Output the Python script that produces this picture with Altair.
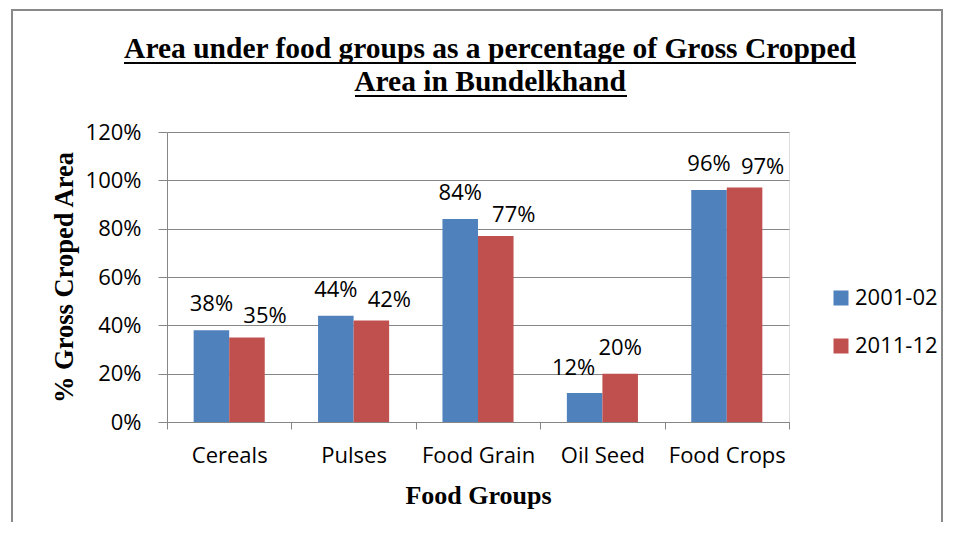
import altair as alt
import pandas as pd

# ---- data ----
categories = ["Cereals", "Pulses", "Food Grain", "Oil Seed", "Food Crops"]
periods = ["2001-02", "2011-12"]
share_2001 = [0.38, 0.44, 0.84, 0.12, 0.96]
share_2011 = [0.35, 0.42, 0.77, 0.20, 0.97]
y_ticks = [0, 0.2, 0.4, 0.6, 0.8, 1.0, 1.2]
title_lines = ["Area under food groups as a percentage of Gross Cropped",
               "Area in Bundelkhand"]

rows = []
for cat, a, b in zip(categories, share_2001, share_2011):
    rows.append({"Group": cat, "Period": periods[0], "Share": a})
    rows.append({"Group": cat, "Period": periods[1], "Share": b})
df = pd.DataFrame(rows)

BLUE = "#4F81BD"
RED = "#C0504D"
GRID = "#868686"
SANS = "Open Sans"
SERIF = "Liberation Serif"

W, H = 622, 290

base = alt.Chart(df).encode(
    x=alt.X(
        "Group:N",
        sort=categories,
        scale=alt.Scale(paddingInner=0, paddingOuter=0),
        axis=alt.Axis(
            title="Food Groups",
            titleFont=SERIF, titleFontSize=26, titleFontWeight="bold", titleColor="black",
            titleBaseline="alphabetic", titleY=81, titleX=W / 2,
            labelFont=SANS, labelFontSize=22, labelColor="black", labelAngle=0,
            labelPadding=16, tickBand="extent", tickSize=7, tickColor=GRID,
            domainColor=GRID, grid=False,
        ),
    ),
    xOffset=alt.XOffset("Period:N", sort=periods,
                        scale=alt.Scale(paddingInner=0, paddingOuter=0.75)),
    y=alt.Y(
        "Share:Q",
        scale=alt.Scale(domain=[0, 1.2], nice=False),
        axis=alt.Axis(
            title="% Gross Croped Area",
            titleFont=SERIF, titleFontSize=26.5, titleFontWeight="bold", titleColor="black",
            titleBaseline="alphabetic", titleAngle=-90, titleX=-95, titleY=H / 2,
            values=y_ticks, format=".0%",
            labelFont=SANS, labelFontSize=22, labelColor="black", labelPadding=17,
            tickSize=9, tickColor=GRID, domainColor=GRID,
            grid=True, gridColor=GRID, gridWidth=1,
        ),
    ),
)

bars = base.mark_bar().encode(
    color=alt.Color(
        "Period:N", sort=periods,
        scale=alt.Scale(domain=periods, range=[BLUE, RED]),
        legend=alt.Legend(
            title=None, orient="none", legendX=663, legendY=155,
            symbolType="square", symbolSize=225, symbolStrokeWidth=0,
            labelFont=SANS, labelFontSize=22, labelColor="black",
            labelOffset=3, rowPadding=26, padding=0,
        ),
    )
)

lab_kw = dict(font=SANS, fontSize=22, color="black", align="center", baseline="alphabetic")
pct = alt.Text("Share:Q", format=".0%")

labels_a = base.mark_text(dx=0, dy=-19, **lab_kw).encode(text=pct).transform_filter(
    "(datum.Period == '2001-02' && datum.Group != 'Oil Seed') || "
    "(datum.Period == '2011-12' && datum.Group == 'Oil Seed')"
)
labels_b = base.mark_text(dx=-11, dy=-18, **lab_kw).encode(text=pct).transform_filter(
    "datum.Period == '2001-02' && datum.Group == 'Oil Seed'"
)
labels_c = base.mark_text(dx=18, dy=-14, **lab_kw).encode(text=pct).transform_filter(
    "datum.Period == '2011-12' && datum.Group != 'Oil Seed'"
)

deco = pd.DataFrame({"k": [0]})
border = alt.Chart(deco).mark_rect(fill=None, stroke="#898989", strokeWidth=2).encode(
    x=alt.value(-155), x2=alt.value(775), y=alt.value(-122), y2=alt.value(420)
)
title = alt.Chart(deco).mark_text(
    text=title_lines, font=SERIF, fontSize=29.5, fontWeight="bold", color="black",
    align="center", baseline="alphabetic", lineHeight=33,
).encode(x=alt.value(323), y=alt.value(-74))
underline1 = alt.Chart(deco).mark_rule(color="black", strokeWidth=2).encode(
    x=alt.value(-43), x2=alt.value(689), y=alt.value(-69)
)
underline2 = alt.Chart(deco).mark_rule(color="black", strokeWidth=2).encode(
    x=alt.value(188), x2=alt.value(460), y=alt.value(-36)
)

chart = alt.layer(
    border, bars, labels_a, labels_b, labels_c, title, underline1, underline2
).properties(
    width=W,
    height=H,
    autosize=alt.AutoSizeParams(type="none"),
    padding={"left": 159, "top": 124, "right": 159, "bottom": 100},
).configure_view(stroke=None).configure(background="white")

chart.save("out.html", embed_options={"renderer": "svg", "actions": False})
